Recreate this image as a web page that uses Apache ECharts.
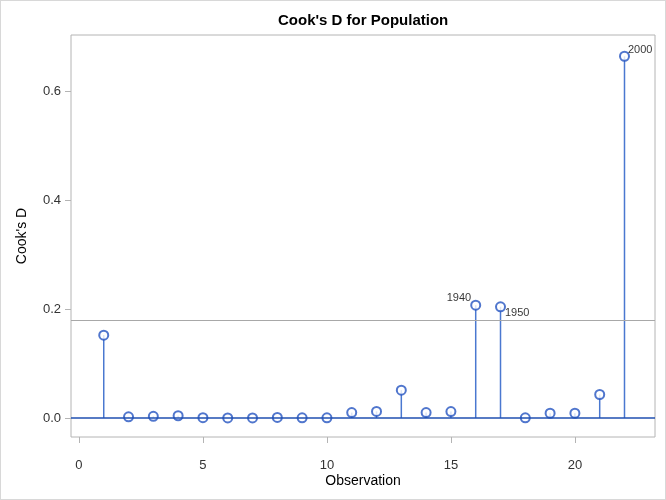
<!DOCTYPE html>
<html>
<head>
<meta charset="utf-8">
<script src="https://cdn.jsdelivr.net/npm/echarts@6/dist/echarts.min.js"></script>
<style>
html,body{margin:0;padding:0;background:#fff;}
#main{width:666px;height:500px;box-sizing:border-box;border:1px solid #d8d8d8;}
</style>
</head>
<body>
<div id="main"></div>
<script>
// observation numbers and Cook's D values
var observations = [1,2,3,4,5,6,7,8,9,10,11,12,13,14,15,16,17,18,19,20,21,22];
var cooksD = [0.152,0.002,0.003,0.004,0.0005,0.0001,0.0001,0.001,0.0002,0.0002,0.0098,0.012,0.051,0.0098,0.0116,0.207,0.204,0.0003,0.0086,0.0086,0.043,0.664];
var cutoff = 4 / observations.length;
// labelled points (observation -> year)
var labelObs = [16,17,22];
var labelText = ['1940','1950','2000'];
var xTicks = [0,5,10,15,20];
var yTicks = [0,0.2,0.4,0.6];

var chart = echarts.init(document.getElementById('main'));

var labelPos = {
  '1940': {position:'left', offset:[3,-7]},
  '1950': {position:'right', offset:[-3,6]},
  '2000': {position:'right', offset:[-4,-6]}
};

var pts = observations.map(function(o,i){
  var item = {value:[o,cooksD[i]]};
  var k = labelObs.indexOf(o);
  if(k>=0){
    var p = labelPos[labelText[k]];
    item.label = {show:true, formatter:labelText[k], position:p.position, offset:p.offset,
      color:'#000', fontSize:11, fontFamily:'Liberation Sans', distance:2};
  }
  return item;
});

var option = {
  animation:false,
  title:{
    text:"Cook's D for Population",
    left:272, top:7,
    textStyle:{fontFamily:'Liberation Sans', fontSize:15, fontWeight:'bold', color:'#000'}
  },
  grid:{left:70, right:10, top:34, bottom:62, show:true, borderColor:'#b4b4b4', borderWidth:1},
  xAxis:{
    type:'value', min:-0.32, max:23.23,
    name:'Observation', nameLocation:'middle', nameGap:37, nameMoveOverlap:false,
    nameTextStyle:{fontFamily:'Liberation Sans', fontSize:14, color:'#000'},
    axisLine:{show:false, onZero:false},
    axisTick:{show:true, inside:false, length:6, lineStyle:{color:'#b4b4b4'}, customValues:xTicks},
    axisLabel:{customValues:xTicks, margin:22, fontFamily:'Liberation Sans', fontSize:13, color:'#333'},
    splitLine:{show:false}
  },
  yAxis:{
    type:'value', min:-0.035, max:0.703,
    name:"Cook's D", nameLocation:'middle', nameGap:42, nameMoveOverlap:false,
    nameTextStyle:{fontFamily:'Liberation Sans', fontSize:14, color:'#000'},
    axisLine:{show:false, onZero:false},
    axisTick:{show:true, inside:false, length:6, lineStyle:{color:'#b4b4b4'}, customValues:yTicks},
    axisLabel:{customValues:yTicks, margin:10, fontFamily:'Liberation Sans', fontSize:13, color:'#333',
      formatter:function(v){return v.toFixed(1);}},
    splitLine:{show:false}
  },
  series:[
    {
      type:'custom',
      silent:true,
      data:observations.map(function(o,i){return [o,cooksD[i]];}),
      renderItem:function(params, api){
        var top = api.coord([api.value(0), api.value(1)]);
        var base = api.coord([api.value(0), 0]);
        return {type:'line', shape:{x1:top[0], y1:top[1], x2:base[0], y2:base[1]},
          style:{stroke:'#4a78d0', lineWidth:1.5}};
      },
      z:2
    },
    {
      type:'scatter',
      symbol:'emptyCircle',
      symbolSize:9,
      itemStyle:{color:'#2454c0', borderWidth:1.3},
      data:pts,
      z:4,
      markLine:{
        silent:true, symbol:'none', label:{show:false},
        data:[
          {yAxis:0, lineStyle:{color:'#1f4fb0', width:1.5, type:'solid'}},
          {yAxis:cutoff, lineStyle:{color:'#a8a8a8', width:1, type:'solid'}}
        ]
      }
    }
  ]
};
chart.setOption(option);
</script>
</body>
</html>
